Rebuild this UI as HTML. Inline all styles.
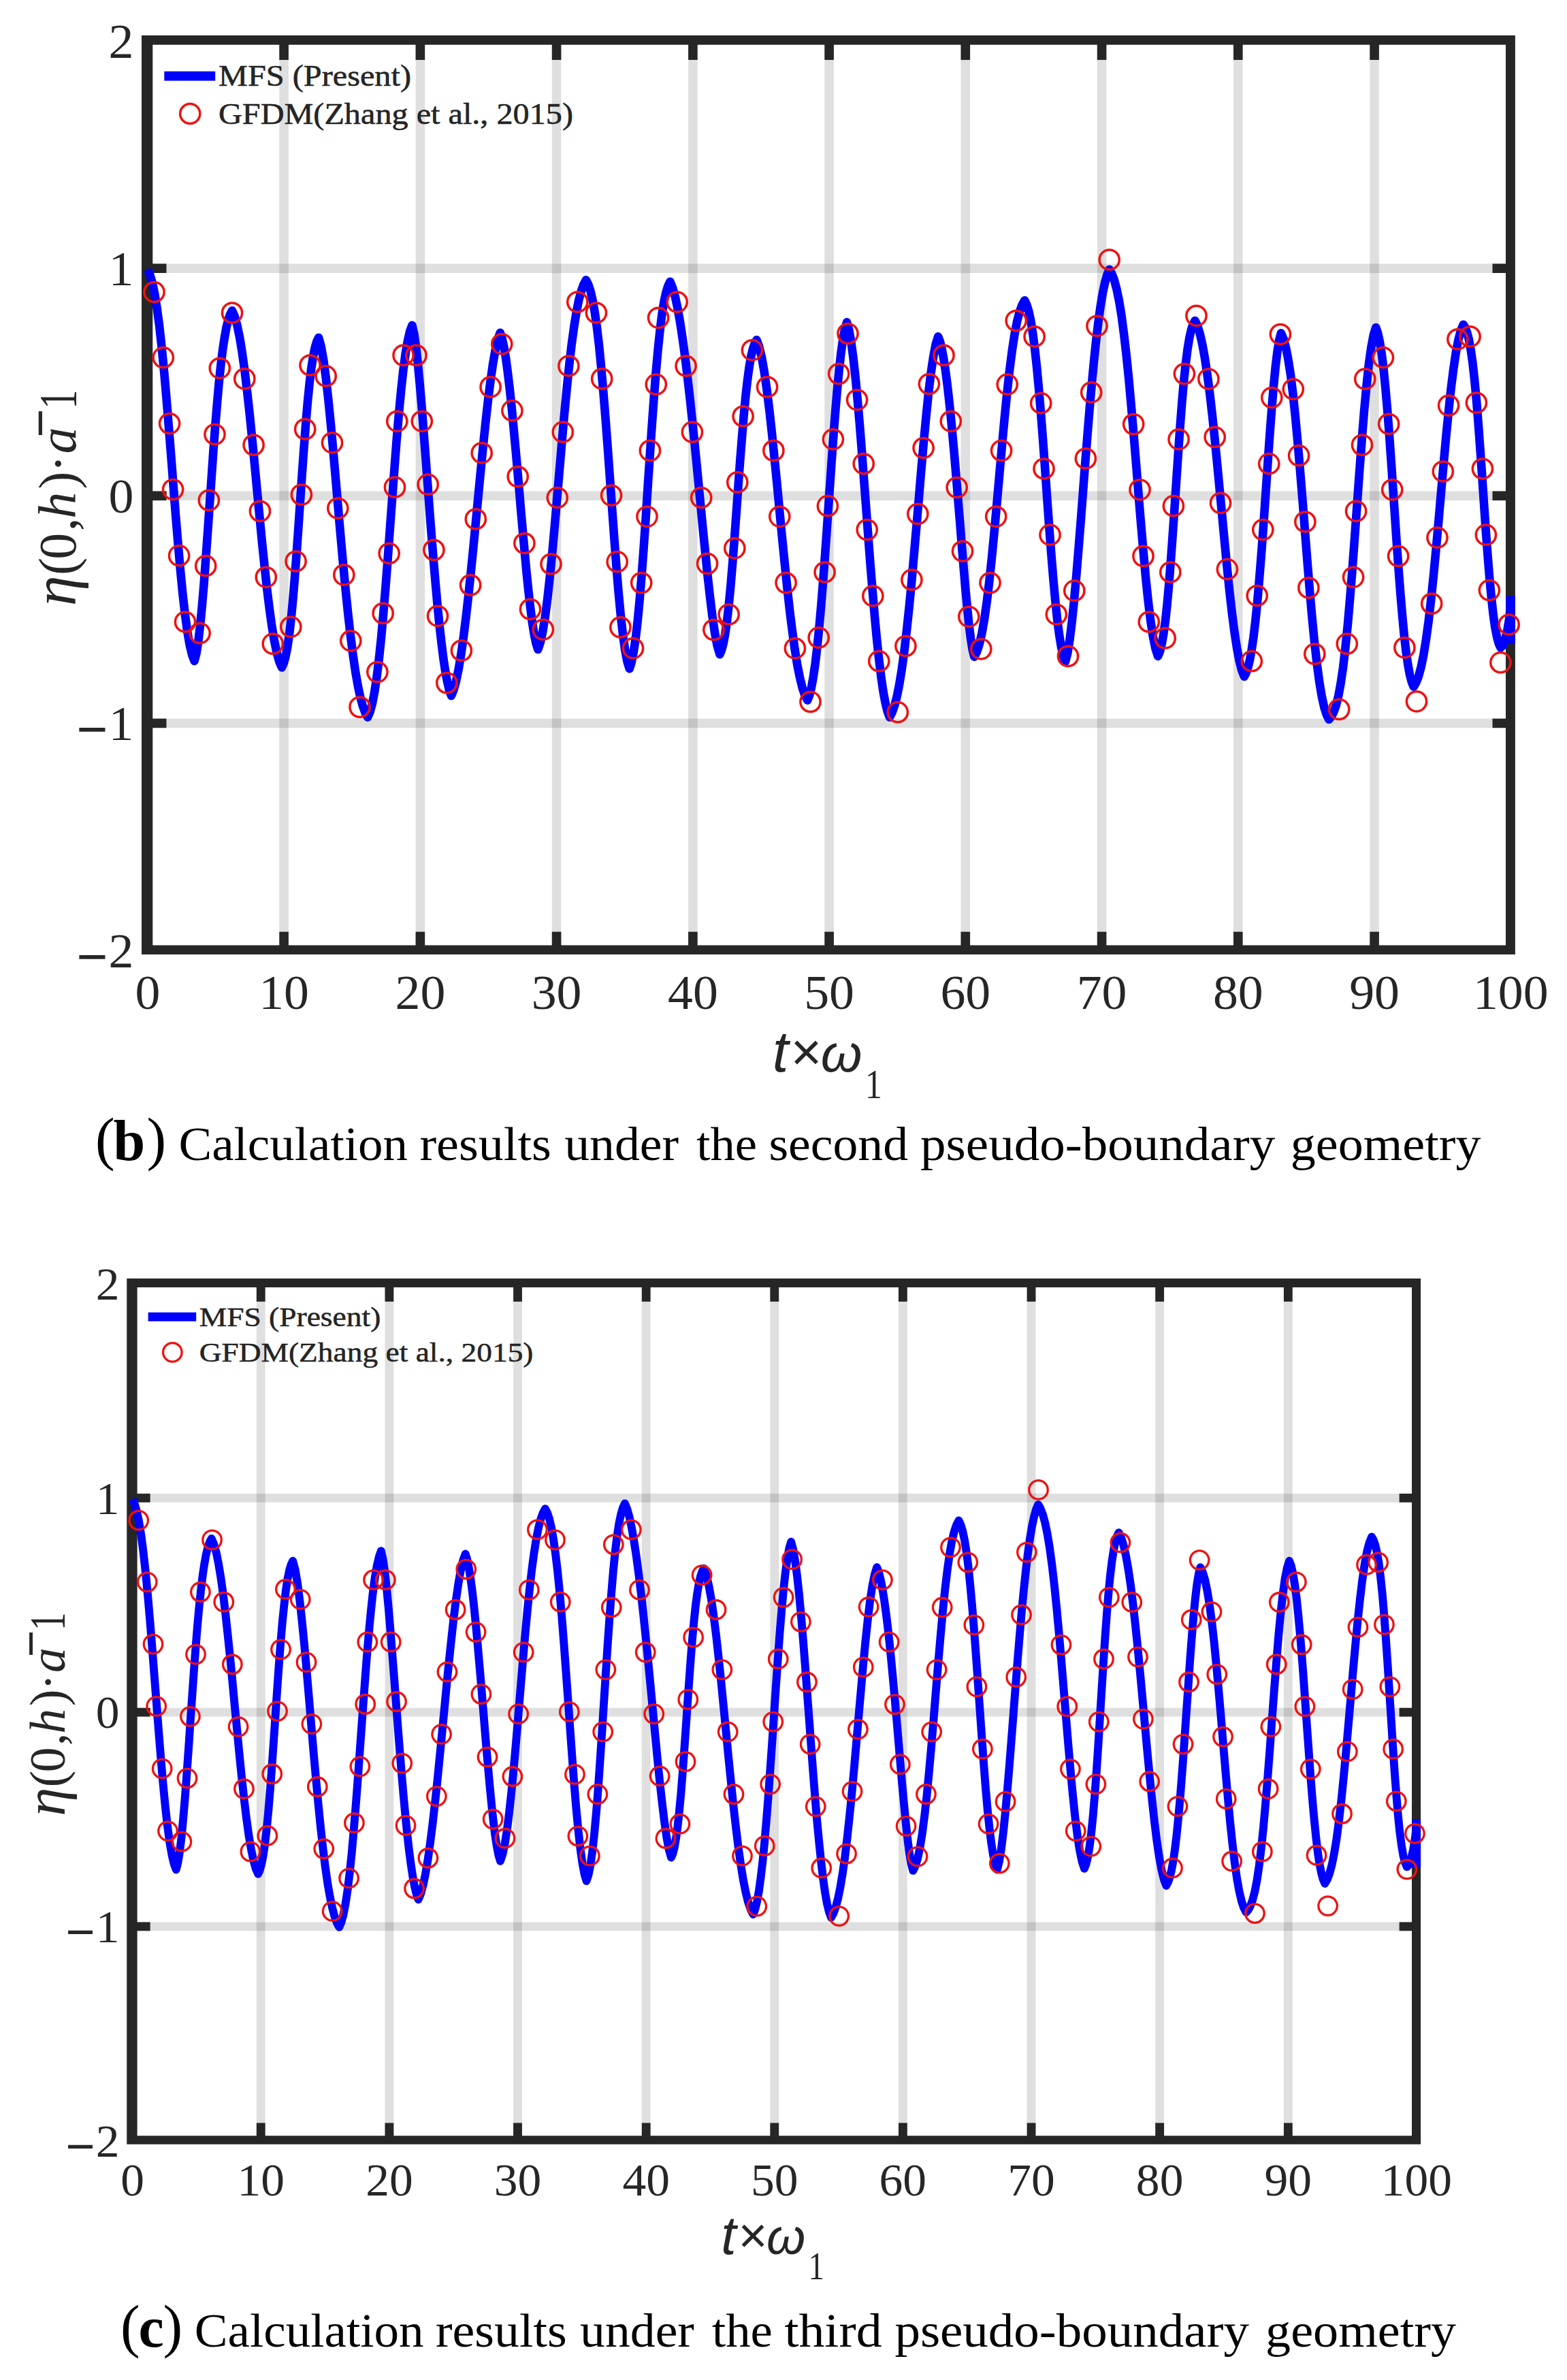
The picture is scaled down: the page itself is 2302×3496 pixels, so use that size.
<!DOCTYPE html>
<html><head><meta charset="utf-8"><title>Figure</title>
<style>
html,body{margin:0;padding:0;background:#fff;}
svg{display:block;}
text{font-family:"Liberation Serif","DejaVu Serif",serif;fill:#262626;}
.sans text{font-family:"Liberation Sans","DejaVu Sans",sans-serif;font-style:italic;}
text.cap{font-family:"Liberation Serif","DejaVu Serif",serif;fill:#000;}
</style></head><body>
<svg width="2302" height="3496" viewBox="0 0 2302 3496">
<rect width="2302" height="3496" fill="#fff"/>
<g id="chart-b">
<g fill="#000" fill-opacity="0.125">
<rect x="410.3" y="65.8" width="13.6" height="1322.8"/>
<rect x="610.6" y="65.8" width="13.6" height="1322.8"/>
<rect x="810.8" y="65.8" width="13.6" height="1322.8"/>
<rect x="1011.1" y="65.8" width="13.6" height="1322.8"/>
<rect x="1211.3" y="65.8" width="13.6" height="1322.8"/>
<rect x="1411.5" y="65.8" width="13.6" height="1322.8"/>
<rect x="1611.8" y="65.8" width="13.6" height="1322.8"/>
<rect x="1812.0" y="65.8" width="13.6" height="1322.8"/>
<rect x="2012.3" y="65.8" width="13.6" height="1322.8"/>
<rect x="224.3" y="1055.6" width="1987.7" height="13.6"/>
<rect x="224.3" y="721.5" width="1987.7" height="13.6"/>
<rect x="224.3" y="387.4" width="1987.7" height="13.6"/>
</g>
<g fill="#262626">
<rect x="410.3" y="64.8" width="13.6" height="23.2"/>
<rect x="410.3" y="1368.7" width="13.6" height="20.9"/>
<rect x="610.6" y="64.8" width="13.6" height="23.2"/>
<rect x="610.6" y="1368.7" width="13.6" height="20.9"/>
<rect x="810.8" y="64.8" width="13.6" height="23.2"/>
<rect x="810.8" y="1368.7" width="13.6" height="20.9"/>
<rect x="1011.1" y="64.8" width="13.6" height="23.2"/>
<rect x="1011.1" y="1368.7" width="13.6" height="20.9"/>
<rect x="1211.3" y="64.8" width="13.6" height="23.2"/>
<rect x="1211.3" y="1368.7" width="13.6" height="20.9"/>
<rect x="1411.5" y="64.8" width="13.6" height="23.2"/>
<rect x="1411.5" y="1368.7" width="13.6" height="20.9"/>
<rect x="1611.8" y="64.8" width="13.6" height="23.2"/>
<rect x="1611.8" y="1368.7" width="13.6" height="20.9"/>
<rect x="1812.0" y="64.8" width="13.6" height="23.2"/>
<rect x="1812.0" y="1368.7" width="13.6" height="20.9"/>
<rect x="2012.3" y="64.8" width="13.6" height="23.2"/>
<rect x="2012.3" y="1368.7" width="13.6" height="20.9"/>
<rect x="223.3" y="1055.6" width="21.2" height="13.6"/>
<rect x="2192.5" y="1055.6" width="20.5" height="13.6"/>
<rect x="223.3" y="721.5" width="21.2" height="13.6"/>
<rect x="2192.5" y="721.5" width="20.5" height="13.6"/>
<rect x="223.3" y="387.4" width="21.2" height="13.6"/>
<rect x="2192.5" y="387.4" width="20.5" height="13.6"/>
<path fill-rule="evenodd" d="M208.0 52.0H2225.9V1401.9H208.0ZM224.3 65.8H2212.0V1388.6H224.3Z"/>
</g>
<polyline points="216.9,396.2 220.3,403.7 223.8,415.3 227.2,431.6 230.6,452.7 234.1,478.8 237.5,509.6 241.0,544.9 244.4,583.9 247.8,625.7 251.3,669.3 254.7,713.6 258.1,757.2 261.6,799.0 265.0,837.8 268.4,872.7 271.9,903.0 275.3,928.0 278.7,947.7 282.2,961.9 285.6,970.9 288.4,960.2 291.2,943.1 293.9,920.1 296.7,891.6 299.5,858.6 302.2,822.1 305.0,783.2 307.8,743.1 310.6,703.1 313.3,664.1 316.1,627.3 318.9,593.3 321.6,562.7 324.4,536.1 327.2,513.5 330.0,495.0 332.7,480.3 335.5,469.3 338.3,461.4 341.0,456.2 344.7,464.6 348.3,477.5 352.0,495.1 355.6,517.1 359.3,543.4 362.9,573.5 366.6,606.9 370.2,642.7 373.9,680.4 377.5,718.9 381.2,757.4 384.8,794.9 388.5,830.7 392.1,863.9 395.8,893.9 399.4,920.0 403.1,941.9 406.7,959.3 410.4,972.2 414.0,980.5 416.7,974.5 419.4,965.0 422.2,951.1 424.9,932.6 427.6,909.2 430.3,881.1 433.0,848.7 435.7,812.8 438.4,774.4 441.1,734.9 443.8,695.5 446.5,657.6 449.2,622.4 451.9,590.9 454.6,563.7 457.3,541.3 460.0,523.7 462.7,510.6 465.4,501.6 468.1,496.0 471.7,508.9 475.3,529.2 478.9,556.1 482.5,588.4 486.1,624.9 489.7,664.4 493.3,705.6 496.9,747.4 500.5,788.8 504.1,828.8 507.7,866.6 511.3,901.7 514.9,933.5 518.5,961.8 522.1,986.3 525.7,1007.0 529.3,1023.9 532.9,1037.1 536.5,1046.9 540.1,1053.5 543.4,1046.0 546.7,1034.4 549.9,1018.1 553.2,996.7 556.5,970.4 559.8,939.1 563.0,903.4 566.3,863.9 569.6,821.5 572.8,777.4 576.1,732.8 579.4,688.9 582.6,647.1 585.9,608.4 589.2,573.7 592.4,543.9 595.7,519.4 599.0,500.3 602.2,486.5 605.5,477.8 608.4,490.6 611.3,510.6 614.1,536.6 617.0,567.4 619.9,601.6 622.7,638.2 625.6,676.2 628.5,714.7 631.3,752.9 634.2,790.1 637.1,825.8 640.0,859.4 642.8,890.7 645.7,919.4 648.6,945.0 651.4,967.5 654.3,986.6 657.2,1002.1 660.1,1014.0 662.9,1022.0 666.5,1013.4 670.1,1000.3 673.7,982.8 677.3,961.3 680.9,935.9 684.5,907.0 688.1,875.2 691.7,840.9 695.3,804.8 698.9,767.4 702.5,729.6 706.1,692.1 709.7,655.6 713.3,620.8 716.9,588.6 720.5,559.7 724.1,534.7 727.7,514.2 731.2,498.7 734.8,488.7 737.6,497.1 740.4,509.9 743.2,526.6 745.9,547.0 748.7,570.5 751.5,596.7 754.2,625.0 757.0,655.1 759.8,686.4 762.6,718.3 765.3,750.3 768.1,781.9 770.9,812.5 773.6,841.6 776.4,868.6 779.2,893.0 781.9,914.3 784.7,931.8 787.5,945.2 790.3,954.0 793.8,943.7 797.3,927.6 800.9,905.6 804.4,878.2 807.9,846.0 811.5,809.9 815.0,770.9 818.5,730.0 822.1,688.4 825.6,647.3 829.1,607.6 832.7,570.4 836.2,536.4 839.7,506.1 843.3,480.0 846.8,458.2 850.3,440.7 853.9,427.3 857.4,417.7 860.9,411.4 864.1,417.5 867.3,427.0 870.5,440.5 873.7,458.3 876.9,480.8 880.1,508.0 883.2,539.9 886.4,576.1 889.6,615.8 892.8,658.3 896.0,702.5 899.2,747.1 902.4,790.8 905.5,832.4 908.7,870.6 911.9,904.3 915.1,932.7 918.3,955.3 921.5,971.8 924.7,982.2 927.6,973.2 930.6,958.9 933.6,939.0 936.6,913.2 939.6,881.9 942.6,845.6 945.6,805.2 948.6,761.9 951.5,717.0 954.5,671.8 957.5,627.7 960.5,586.2 963.5,548.1 966.5,514.5 969.5,485.7 972.4,462.1 975.4,443.5 978.4,429.6 981.4,419.9 984.4,413.7 988.0,422.4 991.7,435.3 995.3,452.1 999.0,472.6 1002.6,496.5 1006.3,523.5 1009.9,553.3 1013.6,585.6 1017.2,619.9 1020.9,655.9 1024.5,693.1 1028.2,731.0 1031.8,768.9 1035.5,806.0 1039.1,841.6 1042.8,874.8 1046.4,904.4 1050.1,929.5 1053.7,948.8 1057.4,961.3 1060.1,954.9 1062.8,944.6 1065.5,929.9 1068.2,910.6 1070.9,886.5 1073.6,858.0 1076.3,825.6 1079.0,790.4 1081.7,753.3 1084.4,715.6 1087.1,678.6 1089.9,643.4 1092.6,611.2 1095.3,582.7 1098.0,558.5 1100.7,538.7 1103.4,523.3 1106.1,512.0 1108.8,504.2 1111.5,499.3 1115.2,509.3 1119.0,524.9 1122.7,545.9 1126.4,571.7 1130.2,601.9 1133.9,635.6 1137.6,671.9 1141.4,710.1 1145.1,749.1 1148.8,788.0 1152.6,825.9 1156.3,862.0 1160.0,895.6 1163.8,926.1 1167.5,953.1 1171.2,976.2 1175.0,995.3 1178.7,1010.3 1182.4,1021.4 1186.2,1028.6 1189.1,1021.3 1192.0,1009.9 1194.8,994.4 1197.7,974.3 1200.6,949.8 1203.5,921.0 1206.4,888.2 1209.3,852.0 1212.2,813.0 1215.1,772.1 1218.0,730.4 1220.9,688.8 1223.8,648.5 1226.7,610.5 1229.6,575.7 1232.5,545.0 1235.4,519.1 1238.3,498.4 1241.2,483.2 1244.1,473.4 1247.3,484.8 1250.4,502.4 1253.5,525.9 1256.7,554.5 1259.8,587.6 1263.0,624.3 1266.1,663.7 1269.2,704.9 1272.4,746.8 1275.5,788.6 1278.6,829.3 1281.8,868.3 1284.9,904.8 1288.0,938.1 1291.2,967.8 1294.3,993.6 1297.4,1015.1 1300.6,1032.3 1303.7,1045.1 1306.9,1053.5 1310.4,1046.9 1314.0,1036.9 1317.6,1023.2 1321.1,1005.5 1324.7,983.7 1328.3,957.7 1331.8,927.7 1335.4,893.9 1339.0,857.0 1342.5,817.4 1346.1,776.0 1349.7,733.8 1353.2,691.8 1356.8,651.2 1360.4,613.0 1363.9,578.5 1367.5,548.5 1371.1,524.1 1374.6,505.9 1378.2,494.4 1380.9,501.5 1383.5,512.2 1386.2,526.2 1388.8,543.4 1391.5,563.6 1394.1,586.6 1396.8,612.1 1399.4,639.8 1402.1,669.5 1404.7,700.6 1407.4,732.9 1410.1,765.8 1412.7,798.7 1415.4,831.0 1418.0,861.8 1420.7,890.4 1423.3,916.0 1426.0,937.4 1428.6,953.9 1431.3,964.6 1435.0,957.5 1438.7,946.3 1442.4,930.4 1446.1,909.4 1449.8,883.3 1453.5,852.4 1457.2,817.2 1460.9,778.6 1464.6,737.8 1468.3,695.9 1472.0,654.3 1475.7,614.4 1479.4,577.2 1483.1,543.9 1486.8,515.0 1490.5,491.0 1494.2,471.9 1497.9,457.6 1501.6,447.6 1505.3,441.3 1508.3,447.5 1511.3,457.3 1514.3,471.2 1517.2,489.5 1520.2,512.6 1523.2,540.3 1526.2,572.4 1529.2,608.3 1532.2,647.2 1535.2,688.2 1538.1,729.9 1541.1,771.2 1544.1,810.8 1547.1,847.6 1550.1,880.7 1553.1,909.2 1556.1,932.6 1559.1,950.9 1562.0,964.0 1565.0,972.2 1568.3,959.5 1571.5,939.6 1574.7,913.4 1578.0,881.7 1581.2,845.8 1584.4,806.7 1587.7,765.6 1590.9,723.6 1594.1,681.5 1597.4,640.4 1600.6,601.0 1603.9,564.0 1607.1,530.0 1610.3,499.3 1613.6,472.3 1616.8,449.2 1620.0,430.0 1623.3,414.7 1626.5,403.4 1629.7,395.8 1633.3,401.9 1636.9,411.3 1640.4,424.6 1644.0,442.1 1647.6,464.1 1651.1,490.7 1654.7,521.8 1658.3,557.1 1661.8,596.0 1665.4,637.8 1669.0,681.3 1672.5,725.4 1676.1,769.0 1679.7,810.6 1683.2,849.2 1686.8,883.5 1690.4,912.7 1694.0,936.0 1697.5,953.1 1701.1,963.9 1703.8,957.5 1706.5,947.0 1709.2,932.0 1712.0,911.9 1714.7,886.7 1717.4,856.5 1720.1,822.1 1722.8,784.3 1725.6,744.4 1728.3,703.6 1731.0,663.6 1733.7,625.5 1736.4,590.6 1739.1,559.8 1741.9,533.8 1744.6,512.6 1747.3,496.2 1750.0,484.3 1752.7,476.2 1755.5,471.1 1759.1,478.6 1762.7,490.1 1766.3,505.8 1769.9,525.7 1773.5,549.7 1777.2,577.6 1780.8,609.0 1784.4,643.4 1788.0,680.0 1791.6,718.0 1795.3,756.7 1798.9,795.1 1802.5,832.2 1806.1,867.1 1809.7,899.1 1813.3,927.3 1817.0,951.3 1820.6,970.5 1824.2,984.7 1827.8,993.8 1830.5,988.7 1833.2,980.9 1835.9,969.9 1838.6,955.4 1841.3,937.1 1844.0,914.7 1846.7,888.4 1849.4,858.3 1852.1,824.8 1854.9,788.6 1857.6,750.3 1860.3,711.0 1863.0,671.8 1865.7,633.9 1868.4,598.3 1871.1,566.2 1873.8,538.6 1876.5,516.2 1879.2,499.7 1881.9,489.4 1885.4,497.3 1888.9,509.9 1892.4,527.6 1896.0,550.7 1899.5,579.2 1903.0,612.8 1906.5,650.8 1910.0,692.2 1913.6,736.0 1917.1,780.9 1920.6,825.4 1924.1,868.2 1927.6,908.1 1931.1,944.0 1934.7,975.4 1938.2,1001.6 1941.7,1022.6 1945.2,1038.5 1948.7,1049.7 1952.2,1056.8 1955.7,1052.8 1959.1,1046.3 1962.6,1036.6 1966.1,1022.9 1969.5,1004.4 1973.0,980.8 1976.4,951.8 1979.9,917.4 1983.3,878.0 1986.8,834.6 1990.2,788.1 1993.7,740.2 1997.1,692.4 2000.6,646.4 2004.0,603.9 2007.5,566.3 2010.9,534.7 2014.4,509.9 2017.8,492.0 2021.3,481.1 2024.0,488.9 2026.8,501.3 2029.6,518.5 2032.4,540.8 2035.1,567.9 2037.9,599.6 2040.7,635.2 2043.4,673.7 2046.2,714.2 2049.0,755.4 2051.7,796.1 2054.5,835.3 2057.3,871.7 2060.1,904.6 2062.8,933.3 2065.6,957.4 2068.4,976.7 2071.1,991.5 2073.9,1002.0 2076.7,1008.7 2080.3,1002.7 2084.0,993.2 2087.6,979.8 2091.3,962.1 2094.9,939.7 2098.6,912.8 2102.2,881.4 2105.9,846.2 2109.5,807.8 2113.2,767.2 2116.8,725.5 2120.5,684.0 2124.1,643.9 2127.8,606.3 2131.4,572.4 2135.1,542.9 2138.7,518.4 2142.4,499.3 2146.0,485.5 2149.7,476.8 2152.4,481.1 2155.2,488.2 2157.9,498.8 2160.6,513.6 2163.4,533.2 2166.1,557.7 2168.9,586.9 2171.6,620.5 2174.3,657.4 2177.1,696.6 2179.8,736.6 2182.5,776.0 2185.3,813.2 2188.0,847.1 2190.8,876.7 2193.5,901.4 2196.2,920.8 2199.0,935.3 2201.7,945.2 2204.4,951.3 2207.8,948.4 2211.1,939.7 2214.4,925.4 2217.7,906.0 2219.0,884.3" fill="none" stroke="#0000ff" stroke-width="12.6" stroke-linejoin="round" stroke-linecap="butt"/>
<rect x="2212.2" y="875.6" width="13.6" height="70.4" fill="#0000ff"/>
<g fill="none" stroke="#ee1111" stroke-width="3.5"><circle cx="226.5" cy="429.0" r="14.6"/><circle cx="239.8" cy="525.2" r="14.6"/><circle cx="249.1" cy="622.1" r="14.6"/><circle cx="254.1" cy="719.0" r="14.6"/><circle cx="263.1" cy="816.2" r="14.6"/><circle cx="272.0" cy="913.5" r="14.6"/><circle cx="293.6" cy="930.1" r="14.6"/><circle cx="302.2" cy="831.2" r="14.6"/><circle cx="306.9" cy="734.9" r="14.6"/><circle cx="315.5" cy="638.0" r="14.6"/><circle cx="322.8" cy="540.8" r="14.6"/><circle cx="341.0" cy="459.5" r="14.6"/><circle cx="359.3" cy="556.4" r="14.6"/><circle cx="372.6" cy="653.6" r="14.6"/><circle cx="381.9" cy="750.9" r="14.6"/><circle cx="390.8" cy="847.8" r="14.6"/><circle cx="400.8" cy="945.7" r="14.6"/><circle cx="427.3" cy="920.8" r="14.6"/><circle cx="434.6" cy="824.5" r="14.6"/><circle cx="442.9" cy="726.6" r="14.6"/><circle cx="448.2" cy="630.4" r="14.6"/><circle cx="455.5" cy="536.5" r="14.6"/><circle cx="478.7" cy="552.4" r="14.6"/><circle cx="488.0" cy="650.3" r="14.6"/><circle cx="496.3" cy="746.6" r="14.6"/><circle cx="505.3" cy="844.4" r="14.6"/><circle cx="515.3" cy="941.3" r="14.6"/><circle cx="528.5" cy="1038.6" r="14.6"/><circle cx="554.4" cy="987.1" r="14.6"/><circle cx="562.7" cy="900.9" r="14.6"/><circle cx="571.7" cy="812.9" r="14.6"/><circle cx="580.0" cy="715.7" r="14.6"/><circle cx="583.3" cy="618.8" r="14.6"/><circle cx="592.6" cy="521.9" r="14.6"/><circle cx="611.5" cy="521.9" r="14.6"/><circle cx="619.8" cy="618.8" r="14.6"/><circle cx="628.7" cy="711.7" r="14.6"/><circle cx="637.4" cy="807.9" r="14.6"/><circle cx="643.0" cy="904.8" r="14.6"/><circle cx="656.3" cy="1003.1" r="14.6"/><circle cx="677.9" cy="955.6" r="14.6"/><circle cx="691.1" cy="859.4" r="14.6"/><circle cx="698.8" cy="762.5" r="14.6"/><circle cx="707.7" cy="665.3" r="14.6"/><circle cx="720.6" cy="568.4" r="14.6"/><circle cx="737.2" cy="505.3" r="14.6"/><circle cx="752.4" cy="603.2" r="14.6"/><circle cx="760.7" cy="700.1" r="14.6"/><circle cx="770.4" cy="798.0" r="14.6"/><circle cx="779.0" cy="894.9" r="14.6"/><circle cx="797.9" cy="924.8" r="14.6"/><circle cx="809.5" cy="828.5" r="14.6"/><circle cx="818.8" cy="731.0" r="14.6"/><circle cx="826.8" cy="634.7" r="14.6"/><circle cx="835.4" cy="537.5" r="14.6"/><circle cx="848.3" cy="443.6" r="14.6"/><circle cx="875.9" cy="459.5" r="14.6"/><circle cx="884.2" cy="556.4" r="14.6"/><circle cx="898.1" cy="727.6" r="14.6"/><circle cx="906.7" cy="825.2" r="14.6"/><circle cx="911.4" cy="921.4" r="14.6"/><circle cx="930.0" cy="952.3" r="14.6"/><circle cx="942.2" cy="856.1" r="14.6"/><circle cx="950.5" cy="758.8" r="14.6"/><circle cx="954.9" cy="661.9" r="14.6"/><circle cx="963.8" cy="564.7" r="14.6"/><circle cx="967.1" cy="466.8" r="14.6"/><circle cx="994.7" cy="443.6" r="14.6"/><circle cx="1007.6" cy="537.5" r="14.6"/><circle cx="1016.9" cy="634.7" r="14.6"/><circle cx="1030.2" cy="731.0" r="14.6"/><circle cx="1039.1" cy="827.9" r="14.6"/><circle cx="1048.4" cy="925.1" r="14.6"/><circle cx="1070.7" cy="902.5" r="14.6"/><circle cx="1079.3" cy="805.3" r="14.6"/><circle cx="1083.3" cy="708.4" r="14.6"/><circle cx="1091.6" cy="611.5" r="14.6"/><circle cx="1104.9" cy="514.3" r="14.6"/><circle cx="1127.1" cy="568.4" r="14.6"/><circle cx="1136.4" cy="661.9" r="14.6"/><circle cx="1145.3" cy="758.8" r="14.6"/><circle cx="1154.6" cy="856.1" r="14.6"/><circle cx="1167.9" cy="952.3" r="14.6"/><circle cx="1190.5" cy="1030.9" r="14.6"/><circle cx="1202.7" cy="936.7" r="14.6"/><circle cx="1211.6" cy="840.5" r="14.6"/><circle cx="1215.9" cy="743.2" r="14.6"/><circle cx="1223.9" cy="645.3" r="14.6"/><circle cx="1232.2" cy="549.1" r="14.6"/><circle cx="1245.5" cy="490.0" r="14.6"/><circle cx="1259.1" cy="587.3" r="14.6"/><circle cx="1268.7" cy="681.2" r="14.6"/><circle cx="1273.7" cy="778.1" r="14.6"/><circle cx="1282.3" cy="875.3" r="14.6"/><circle cx="1291.3" cy="971.2" r="14.6"/><circle cx="1318.8" cy="1046.2" r="14.6"/><circle cx="1330.4" cy="949.0" r="14.6"/><circle cx="1339.4" cy="851.7" r="14.6"/><circle cx="1348.3" cy="754.9" r="14.6"/><circle cx="1356.6" cy="658.0" r="14.6"/><circle cx="1364.9" cy="564.0" r="14.6"/><circle cx="1386.5" cy="521.9" r="14.6"/><circle cx="1396.8" cy="618.8" r="14.6"/><circle cx="1405.7" cy="716.0" r="14.6"/><circle cx="1414.0" cy="809.6" r="14.6"/><circle cx="1423.3" cy="905.8" r="14.6"/><circle cx="1441.3" cy="953.3" r="14.6"/><circle cx="1454.5" cy="856.1" r="14.6"/><circle cx="1463.2" cy="758.8" r="14.6"/><circle cx="1471.1" cy="661.9" r="14.6"/><circle cx="1479.7" cy="564.7" r="14.6"/><circle cx="1492.7" cy="471.1" r="14.6"/><circle cx="1519.6" cy="494.4" r="14.6"/><circle cx="1529.2" cy="592.2" r="14.6"/><circle cx="1533.5" cy="688.5" r="14.6"/><circle cx="1542.5" cy="785.7" r="14.6"/><circle cx="1551.8" cy="902.5" r="14.6"/><circle cx="1569.0" cy="963.9" r="14.6"/><circle cx="1578.3" cy="867.7" r="14.6"/><circle cx="1594.9" cy="673.5" r="14.6"/><circle cx="1603.2" cy="576.3" r="14.6"/><circle cx="1611.5" cy="478.8" r="14.6"/><circle cx="1629.7" cy="381.5" r="14.6"/><circle cx="1665.2" cy="623.1" r="14.6"/><circle cx="1674.5" cy="719.3" r="14.6"/><circle cx="1679.5" cy="816.9" r="14.6"/><circle cx="1687.8" cy="913.5" r="14.6"/><circle cx="1711.7" cy="937.4" r="14.6"/><circle cx="1719.3" cy="840.5" r="14.6"/><circle cx="1723.9" cy="743.2" r="14.6"/><circle cx="1731.6" cy="645.3" r="14.6"/><circle cx="1739.9" cy="549.1" r="14.6"/><circle cx="1757.5" cy="463.8" r="14.6"/><circle cx="1775.4" cy="556.7" r="14.6"/><circle cx="1784.7" cy="642.0" r="14.6"/><circle cx="1793.0" cy="738.9" r="14.6"/><circle cx="1802.9" cy="836.2" r="14.6"/><circle cx="1838.8" cy="971.2" r="14.6"/><circle cx="1846.7" cy="875.0" r="14.6"/><circle cx="1855.3" cy="778.1" r="14.6"/><circle cx="1864.3" cy="681.2" r="14.6"/><circle cx="1868.3" cy="584.0" r="14.6"/><circle cx="1880.9" cy="491.0" r="14.6"/><circle cx="1899.8" cy="571.7" r="14.6"/><circle cx="1908.1" cy="669.2" r="14.6"/><circle cx="1917.4" cy="766.5" r="14.6"/><circle cx="1922.4" cy="863.4" r="14.6"/><circle cx="1931.3" cy="960.6" r="14.6"/><circle cx="1967.2" cy="1041.9" r="14.6"/><circle cx="1978.8" cy="945.7" r="14.6"/><circle cx="1988.1" cy="847.8" r="14.6"/><circle cx="1992.1" cy="750.9" r="14.6"/><circle cx="2001.0" cy="653.6" r="14.6"/><circle cx="2005.3" cy="556.7" r="14.6"/><circle cx="2031.9" cy="525.2" r="14.6"/><circle cx="2040.2" cy="622.8" r="14.6"/><circle cx="2045.2" cy="719.3" r="14.6"/><circle cx="2054.1" cy="816.9" r="14.6"/><circle cx="2063.4" cy="951.3" r="14.6"/><circle cx="2081.0" cy="1030.3" r="14.6"/><circle cx="2103.2" cy="886.6" r="14.6"/><circle cx="2111.5" cy="789.7" r="14.6"/><circle cx="2119.8" cy="692.5" r="14.6"/><circle cx="2128.1" cy="595.6" r="14.6"/><circle cx="2141.4" cy="498.3" r="14.6"/><circle cx="2159.6" cy="494.4" r="14.6"/><circle cx="2168.9" cy="591.6" r="14.6"/><circle cx="2177.9" cy="688.5" r="14.6"/><circle cx="2182.9" cy="785.7" r="14.6"/><circle cx="2187.9" cy="867.0" r="14.6"/><circle cx="2204.4" cy="973.2" r="14.6"/><circle cx="2216.7" cy="917.5" r="14.6"/><circle cx="279.2" cy="167" r="14.6"/></g>
<rect x="241.3" y="104.8" width="74.9" height="13.8" fill="#0000ff"/>
<g font-size="43.5" fill="#111" stroke="#111" stroke-width="0.5"><text x="321" y="125.8" textLength="283" lengthAdjust="spacingAndGlyphs">MFS (Present)</text>
<text x="321" y="181.7" textLength="521" lengthAdjust="spacingAndGlyphs">GFDM(Zhang et al., 2015)</text></g>
<g font-size="71">
<text transform="translate(216.9,1481.5) scale(1.04,1)" text-anchor="middle">0</text>
<text transform="translate(417.1,1481.5) scale(1.04,1)" text-anchor="middle">10</text>
<text transform="translate(617.4,1481.5) scale(1.04,1)" text-anchor="middle">20</text>
<text transform="translate(817.6,1481.5) scale(1.04,1)" text-anchor="middle">30</text>
<text transform="translate(1017.9,1481.5) scale(1.04,1)" text-anchor="middle">40</text>
<text transform="translate(1218.1,1481.5) scale(1.04,1)" text-anchor="middle">50</text>
<text transform="translate(1418.3,1481.5) scale(1.04,1)" text-anchor="middle">60</text>
<text transform="translate(1618.6,1481.5) scale(1.04,1)" text-anchor="middle">70</text>
<text transform="translate(1818.8,1481.5) scale(1.04,1)" text-anchor="middle">80</text>
<text transform="translate(2019.1,1481.5) scale(1.04,1)" text-anchor="middle">90</text>
<text transform="translate(2219.3,1481.5) scale(1.04,1)" text-anchor="middle">100</text>
<text transform="translate(196.5,84.8) scale(1.04,1)" text-anchor="end">2</text>
<text transform="translate(196.5,418.9) scale(1.04,1)" text-anchor="end">1</text>
<text transform="translate(196.5,753.0) scale(1.04,1)" text-anchor="end">0</text>
<text transform="translate(196.5,1087.1) scale(1.04,1)" text-anchor="end">1</text>
<text x="159" y="1098.8" font-size="82" text-anchor="end" font-weight="bold">−</text>
<text transform="translate(196.5,1421.2) scale(1.04,1)" text-anchor="end">2</text>
<text x="159" y="1432.9" font-size="82" text-anchor="end" font-weight="bold">−</text>
</g>
<text transform="translate(110.7,888) rotate(-90)" font-size="78"><tspan x="-2.2" font-size="90" font-style="italic">η</tspan><tspan x="42.9">(</tspan><tspan x="66.2">0</tspan><tspan x="107.9">,</tspan><tspan x="126.2" font-style="italic">h</tspan><tspan x="169.5">)</tspan><tspan x="193.9">·</tspan><tspan x="221.5" font-style="italic">a</tspan><tspan x="245" dy="-27" font-size="75" font-weight="bold">−</tspan><tspan x="287.2" dy="27" textLength="28" lengthAdjust="spacingAndGlyphs">1</tspan></text>
<g class="sans"><text x="1134.7" y="1573.5" font-size="85">t</text><text x="1160.4" y="1571.5" font-size="78">×</text><text x="1205.7" y="1573.5" font-size="78">ω</text></g>
<text x="1271" y="1612.5" font-size="61" textLength="25" lengthAdjust="spacingAndGlyphs">1</text>
</g>
<g class="capg"><text x="140" y="1702" font-size="86" class="cap">(</text><text x="166.5" y="1703.5" font-size="84" font-weight="bold" class="cap">b</text><text x="215.5" y="1702" font-size="86" class="cap">)</text><text x="262.5" y="1703.5" font-size="70" class="cap" textLength="336.5" lengthAdjust="spacingAndGlyphs">Calculation</text><text x="616.4" y="1703.5" font-size="70" class="cap" textLength="193.4" lengthAdjust="spacingAndGlyphs">results</text><text x="829.2" y="1703.5" font-size="70" class="cap" textLength="167.9" lengthAdjust="spacingAndGlyphs">under</text><text x="1023.2" y="1703.5" font-size="70" class="cap" textLength="88.8" lengthAdjust="spacingAndGlyphs">the</text><text x="1129.4" y="1703.5" font-size="70" class="cap" textLength="204.6" lengthAdjust="spacingAndGlyphs">second</text><text x="1352.1" y="1703.5" font-size="70" class="cap" textLength="521.1" lengthAdjust="spacingAndGlyphs">pseudo-boundary</text><text x="1895.8" y="1703.5" font-size="70" class="cap" textLength="279.7" lengthAdjust="spacingAndGlyphs">geometry</text></g>
<g id="chart-c" transform="translate(-9.67,1829.07) scale(0.942)">
<g fill="#000" fill-opacity="0.125">
<rect x="410.3" y="65.8" width="13.6" height="1322.8"/>
<rect x="610.6" y="65.8" width="13.6" height="1322.8"/>
<rect x="810.8" y="65.8" width="13.6" height="1322.8"/>
<rect x="1011.1" y="65.8" width="13.6" height="1322.8"/>
<rect x="1211.3" y="65.8" width="13.6" height="1322.8"/>
<rect x="1411.5" y="65.8" width="13.6" height="1322.8"/>
<rect x="1611.8" y="65.8" width="13.6" height="1322.8"/>
<rect x="1812.0" y="65.8" width="13.6" height="1322.8"/>
<rect x="2012.3" y="65.8" width="13.6" height="1322.8"/>
<rect x="224.3" y="1055.6" width="1987.7" height="13.6"/>
<rect x="224.3" y="721.5" width="1987.7" height="13.6"/>
<rect x="224.3" y="387.4" width="1987.7" height="13.6"/>
</g>
<g fill="#262626">
<rect x="410.3" y="64.8" width="13.6" height="23.2"/>
<rect x="410.3" y="1368.7" width="13.6" height="20.9"/>
<rect x="610.6" y="64.8" width="13.6" height="23.2"/>
<rect x="610.6" y="1368.7" width="13.6" height="20.9"/>
<rect x="810.8" y="64.8" width="13.6" height="23.2"/>
<rect x="810.8" y="1368.7" width="13.6" height="20.9"/>
<rect x="1011.1" y="64.8" width="13.6" height="23.2"/>
<rect x="1011.1" y="1368.7" width="13.6" height="20.9"/>
<rect x="1211.3" y="64.8" width="13.6" height="23.2"/>
<rect x="1211.3" y="1368.7" width="13.6" height="20.9"/>
<rect x="1411.5" y="64.8" width="13.6" height="23.2"/>
<rect x="1411.5" y="1368.7" width="13.6" height="20.9"/>
<rect x="1611.8" y="64.8" width="13.6" height="23.2"/>
<rect x="1611.8" y="1368.7" width="13.6" height="20.9"/>
<rect x="1812.0" y="64.8" width="13.6" height="23.2"/>
<rect x="1812.0" y="1368.7" width="13.6" height="20.9"/>
<rect x="2012.3" y="64.8" width="13.6" height="23.2"/>
<rect x="2012.3" y="1368.7" width="13.6" height="20.9"/>
<rect x="223.3" y="1055.6" width="21.2" height="13.6"/>
<rect x="2192.5" y="1055.6" width="20.5" height="13.6"/>
<rect x="223.3" y="721.5" width="21.2" height="13.6"/>
<rect x="2192.5" y="721.5" width="20.5" height="13.6"/>
<rect x="223.3" y="387.4" width="21.2" height="13.6"/>
<rect x="2192.5" y="387.4" width="20.5" height="13.6"/>
<path fill-rule="evenodd" d="M208.0 52.0H2225.9V1401.9H208.0ZM224.3 65.8H2212.0V1388.6H224.3Z"/>
</g>
<polyline points="216.9,396.2 220.3,403.8 223.7,415.4 227.1,431.8 230.5,453.0 233.9,479.2 237.3,510.2 240.7,545.6 244.1,584.8 247.5,626.9 250.9,670.7 254.4,715.2 257.8,759.0 261.2,801.0 264.6,840.1 268.0,875.1 271.4,905.5 274.8,930.7 278.2,950.4 281.6,964.7 285.0,973.8 287.7,963.1 290.5,945.9 293.3,922.8 296.0,894.3 298.8,861.2 301.5,824.5 304.3,785.5 307.0,745.3 309.8,705.1 312.5,666.1 315.3,629.1 318.0,595.0 320.8,564.4 323.6,537.6 326.3,515.0 329.1,496.4 331.8,481.7 334.6,470.6 337.3,462.7 340.1,457.5 343.7,465.8 347.4,478.7 351.0,496.3 354.6,518.3 358.3,544.5 361.9,574.5 365.5,607.7 369.2,643.5 372.8,681.1 376.4,719.5 380.1,757.8 383.7,795.3 387.3,831.0 391.0,864.1 394.6,894.0 398.2,920.1 401.9,941.9 405.5,959.3 409.1,972.1 412.8,980.4 415.5,974.4 418.2,964.8 420.9,950.8 423.6,932.1 426.3,908.6 429.0,880.2 431.7,847.6 434.4,811.4 437.1,772.8 439.8,733.0 442.5,693.3 445.2,655.1 447.9,619.7 450.6,587.9 453.4,560.6 456.1,538.0 458.8,520.2 461.5,507.1 464.2,498.0 466.9,492.3 470.5,505.5 474.1,526.3 477.7,553.9 481.3,587.0 485.0,624.4 488.6,664.8 492.2,707.0 495.8,749.9 499.4,792.3 503.1,833.2 506.7,872.0 510.3,907.9 513.9,940.5 517.5,969.5 521.1,994.6 524.8,1015.8 528.4,1033.1 532.0,1046.7 535.6,1056.7 539.2,1063.4 542.5,1055.8 545.8,1043.9 549.0,1027.3 552.3,1005.6 555.6,978.7 558.9,946.8 562.1,910.4 565.4,870.2 568.7,827.0 571.9,782.1 575.2,736.6 578.5,691.9 581.7,649.3 585.0,609.8 588.3,574.5 591.5,544.2 594.8,519.1 598.1,499.7 601.4,485.6 604.6,476.7 607.5,489.6 610.4,509.6 613.3,535.5 616.2,566.2 619.1,600.4 622.0,637.0 625.0,675.0 627.9,713.4 630.8,751.5 633.7,788.7 636.6,824.3 639.5,857.9 642.4,889.2 645.3,917.8 648.2,943.4 651.1,965.8 654.0,984.9 656.9,1000.4 659.8,1012.3 662.7,1020.3 666.4,1011.6 670.0,998.3 673.7,980.7 677.4,958.9 681.0,933.3 684.7,904.1 688.4,871.9 692.1,837.3 695.7,800.8 699.4,763.0 703.1,724.8 706.7,686.9 710.4,650.0 714.1,614.9 717.7,582.3 721.4,553.1 725.1,527.8 728.7,507.1 732.4,491.5 736.1,481.4 738.8,490.0 741.5,503.2 744.2,520.4 747.0,541.4 749.7,565.6 752.4,592.6 755.1,621.8 757.8,652.7 760.6,684.9 763.3,717.8 766.0,750.7 768.7,783.3 771.5,814.8 774.2,844.8 776.9,872.6 779.6,897.8 782.3,919.6 785.1,937.7 787.8,951.5 790.5,960.5 794.0,950.1 797.5,933.8 801.0,911.5 804.5,883.8 808.0,851.2 811.5,814.6 815.0,775.1 818.5,733.7 822.0,691.6 825.5,649.9 829.0,609.8 832.5,572.1 836.0,537.6 839.5,507.0 843.0,480.5 846.5,458.4 850.0,440.7 853.5,427.1 857.0,417.4 860.5,411.0 863.8,417.2 867.0,426.9 870.2,440.6 873.4,458.7 876.6,481.5 879.9,509.2 883.1,541.7 886.3,578.4 889.5,618.9 892.7,662.1 896.0,707.0 899.2,752.3 902.4,796.8 905.6,839.1 908.8,877.9 912.1,912.2 915.3,941.1 918.5,964.1 921.7,980.8 924.9,991.4 927.9,982.1 930.9,967.3 933.9,946.6 936.9,919.9 939.9,887.5 942.9,850.0 945.8,808.2 948.8,763.3 951.8,716.7 954.8,669.9 957.8,624.3 960.8,581.3 963.8,541.9 966.7,507.0 969.7,477.3 972.7,452.8 975.7,433.5 978.7,419.1 981.7,409.1 984.7,402.7 988.3,411.4 991.9,424.4 995.5,441.4 999.1,462.1 1002.8,486.2 1006.4,513.4 1010.0,543.5 1013.6,576.0 1017.2,610.6 1020.9,646.9 1024.5,684.5 1028.1,722.6 1031.7,760.8 1035.3,798.3 1038.9,834.2 1042.6,867.7 1046.2,897.5 1049.8,922.8 1053.4,942.3 1057.0,954.9 1059.6,948.6 1062.1,938.6 1064.6,924.3 1067.2,905.4 1069.7,881.9 1072.3,854.0 1074.8,822.5 1077.3,788.1 1079.9,751.8 1082.4,715.1 1085.0,678.9 1087.5,644.6 1090.0,613.2 1092.6,585.4 1095.1,561.7 1097.7,542.4 1100.2,527.4 1102.7,516.3 1105.3,508.7 1107.8,504.0 1111.7,514.1 1115.5,530.1 1119.4,551.4 1123.2,577.8 1127.1,608.5 1130.9,642.8 1134.8,679.9 1138.6,718.8 1142.5,758.6 1146.3,798.2 1150.2,836.9 1154.0,873.7 1157.9,907.9 1161.7,939.0 1165.6,966.5 1169.4,990.1 1173.3,1009.5 1177.1,1024.8 1181.0,1036.1 1184.8,1043.5 1187.8,1035.8 1190.7,1024.0 1193.7,1007.7 1196.6,986.7 1199.6,961.0 1202.6,930.9 1205.5,896.5 1208.5,858.6 1211.4,817.8 1214.4,775.1 1217.4,731.4 1220.3,687.9 1223.3,645.7 1226.2,605.9 1229.2,569.5 1232.1,537.4 1235.1,510.2 1238.1,488.6 1241.0,472.6 1244.0,462.5 1247.1,473.9 1250.2,491.7 1253.3,515.4 1256.5,544.4 1259.6,577.8 1262.7,614.9 1265.8,654.7 1268.9,696.3 1272.1,738.6 1275.2,780.8 1278.3,822.0 1281.4,861.4 1284.5,898.2 1287.7,931.9 1290.8,961.9 1293.9,988.0 1297.0,1009.7 1300.1,1027.1 1303.3,1040.0 1306.4,1048.5 1309.9,1042.0 1313.5,1032.3 1317.1,1018.9 1320.6,1001.6 1324.2,980.3 1327.8,954.9 1331.3,925.6 1334.9,892.6 1338.5,856.5 1342.1,817.8 1345.6,777.4 1349.2,736.2 1352.8,695.2 1356.3,655.5 1359.9,618.2 1363.5,584.5 1367.0,555.2 1370.6,531.4 1374.2,513.6 1377.7,502.3 1380.6,509.5 1383.4,520.3 1386.2,534.4 1389.0,551.7 1391.8,572.0 1394.7,595.1 1397.5,620.7 1400.3,648.7 1403.1,678.5 1405.9,709.9 1408.8,742.4 1411.6,775.4 1414.4,808.6 1417.2,841.0 1420.1,872.0 1422.9,900.8 1425.7,926.5 1428.5,948.1 1431.3,964.7 1434.2,975.4 1437.7,968.1 1441.3,956.4 1444.9,939.7 1448.4,917.8 1452.0,890.6 1455.6,858.4 1459.1,821.6 1462.7,781.4 1466.3,738.7 1469.8,695.0 1473.4,651.6 1477.0,609.9 1480.5,571.2 1484.1,536.3 1487.7,506.2 1491.2,481.1 1494.8,461.2 1498.4,446.3 1502.0,435.8 1505.5,429.3 1508.5,435.7 1511.5,445.7 1514.5,459.9 1517.5,478.8 1520.5,502.4 1523.4,530.9 1526.4,563.8 1529.4,600.6 1532.4,640.5 1535.4,682.5 1538.4,725.2 1541.4,767.6 1544.4,808.3 1547.3,846.0 1550.3,879.9 1553.3,909.1 1556.3,933.2 1559.3,951.9 1562.3,965.3 1565.3,973.8 1568.5,961.2 1571.7,941.6 1574.9,915.6 1578.1,884.4 1581.3,848.9 1584.5,810.3 1587.7,769.7 1590.9,728.1 1594.1,686.6 1597.3,646.0 1600.5,607.1 1603.7,570.6 1606.9,536.9 1610.1,506.6 1613.3,480.0 1616.5,457.1 1619.7,438.1 1622.9,423.1 1626.1,411.9 1629.3,404.3 1632.9,410.5 1636.5,419.9 1640.1,433.1 1643.7,450.6 1647.3,472.6 1650.9,499.2 1654.5,530.3 1658.1,565.6 1661.7,604.5 1665.3,646.2 1668.9,689.6 1672.5,733.8 1676.1,777.3 1679.7,818.9 1683.3,857.4 1686.9,891.7 1690.5,920.9 1694.1,944.2 1697.7,961.3 1701.3,972.1 1704.0,965.3 1706.7,954.2 1709.4,938.2 1712.1,916.8 1714.8,890.0 1717.5,858.0 1720.2,821.4 1722.9,781.2 1725.5,738.7 1728.2,695.4 1730.9,652.8 1733.6,612.3 1736.3,575.2 1739.0,542.5 1741.7,514.8 1744.4,492.3 1747.1,474.9 1749.7,462.2 1752.4,453.5 1755.1,448.2 1758.8,456.1 1762.5,468.2 1766.2,484.7 1769.9,505.6 1773.6,530.9 1777.3,560.3 1781.0,593.4 1784.7,629.6 1788.4,668.1 1792.1,708.3 1795.8,749.0 1799.5,789.4 1803.2,828.5 1806.9,865.3 1810.6,898.9 1814.3,928.7 1818.0,953.9 1821.7,974.1 1825.4,989.1 1829.1,998.7 1831.8,993.6 1834.4,986.0 1837.1,975.2 1839.8,960.9 1842.4,942.9 1845.1,920.9 1847.7,895.0 1850.4,865.4 1853.0,832.4 1855.7,796.7 1858.3,759.1 1861.0,720.4 1863.7,681.9 1866.3,644.5 1869.0,609.5 1871.6,577.9 1874.3,550.7 1876.9,528.7 1879.6,512.5 1882.2,502.3 1885.8,509.8 1889.4,521.7 1892.9,538.5 1896.5,560.4 1900.1,587.5 1903.7,619.3 1907.2,655.3 1910.8,694.6 1914.4,736.1 1917.9,778.6 1921.5,820.8 1925.1,861.3 1928.6,899.2 1932.2,933.3 1935.8,963.0 1939.3,987.8 1942.9,1007.7 1946.5,1022.8 1950.0,1033.4 1953.6,1040.2 1957.0,1036.4 1960.3,1030.2 1963.7,1020.9 1967.1,1007.9 1970.5,990.3 1973.8,967.9 1977.2,940.2 1980.6,907.5 1983.9,870.1 1987.3,828.7 1990.7,784.5 1994.0,738.9 1997.4,693.4 2000.8,649.7 2004.1,609.2 2007.5,573.4 2010.9,543.4 2014.2,519.7 2017.6,502.8 2021.0,492.3 2023.8,499.8 2026.5,511.6 2029.3,528.0 2032.1,549.2 2034.8,575.1 2037.6,605.3 2040.4,639.2 2043.2,676.0 2045.9,714.6 2048.7,753.8 2051.5,792.7 2054.2,830.0 2057.0,864.7 2059.8,896.1 2062.6,923.4 2065.3,946.4 2068.1,964.9 2070.9,979.0 2073.6,989.0 2076.4,995.4 2080.1,989.2 2083.7,979.6 2087.4,966.0 2091.0,948.0 2094.7,925.3 2098.3,897.9 2102.0,866.0 2105.6,830.2 2109.3,791.2 2112.9,749.9 2116.6,707.6 2120.2,665.4 2123.9,624.6 2127.5,586.5 2131.2,552.0 2134.8,522.0 2138.5,497.1 2142.1,477.7 2145.8,463.7 2149.4,454.8 2152.2,459.5 2154.9,467.2 2157.6,478.7 2160.4,494.8 2163.1,516.0 2165.9,542.5 2168.6,574.3 2171.3,610.6 2174.1,650.7 2176.8,693.2 2179.6,736.6 2182.3,779.3 2185.0,819.7 2187.8,856.5 2190.5,888.6 2193.2,915.3 2196.0,936.4 2198.7,952.1 2201.5,962.9 2204.2,969.5 2207.5,966.4 2210.8,957.4 2214.1,942.6 2217.4,922.4 2219.5,902.4" fill="none" stroke="#0000ff" stroke-width="12.6" stroke-linejoin="round" stroke-linecap="butt"/>
<rect x="2212.2" y="895.2" width="13.6" height="74.8" fill="#0000ff"/>
<g fill="none" stroke="#ee1111" stroke-width="3.5"><circle cx="226.5" cy="429.0" r="14.6"/><circle cx="239.8" cy="525.2" r="14.6"/><circle cx="249.1" cy="622.1" r="14.6"/><circle cx="254.1" cy="719.0" r="14.6"/><circle cx="263.1" cy="816.2" r="14.6"/><circle cx="272.0" cy="913.5" r="14.6"/><circle cx="293.6" cy="930.1" r="14.6"/><circle cx="302.2" cy="831.2" r="14.6"/><circle cx="306.9" cy="734.9" r="14.6"/><circle cx="315.5" cy="638.0" r="14.6"/><circle cx="322.8" cy="540.8" r="14.6"/><circle cx="341.0" cy="459.5" r="14.6"/><circle cx="359.3" cy="556.4" r="14.6"/><circle cx="372.6" cy="653.6" r="14.6"/><circle cx="381.9" cy="750.9" r="14.6"/><circle cx="390.8" cy="847.8" r="14.6"/><circle cx="400.8" cy="945.7" r="14.6"/><circle cx="427.3" cy="920.8" r="14.6"/><circle cx="434.6" cy="824.5" r="14.6"/><circle cx="442.9" cy="726.6" r="14.6"/><circle cx="448.2" cy="630.4" r="14.6"/><circle cx="455.5" cy="536.5" r="14.6"/><circle cx="478.7" cy="552.4" r="14.6"/><circle cx="488.0" cy="650.3" r="14.6"/><circle cx="496.3" cy="746.6" r="14.6"/><circle cx="505.3" cy="844.4" r="14.6"/><circle cx="515.3" cy="941.3" r="14.6"/><circle cx="528.5" cy="1038.6" r="14.6"/><circle cx="554.4" cy="987.1" r="14.6"/><circle cx="562.7" cy="900.9" r="14.6"/><circle cx="571.7" cy="812.9" r="14.6"/><circle cx="580.0" cy="715.7" r="14.6"/><circle cx="583.3" cy="618.8" r="14.6"/><circle cx="592.6" cy="521.9" r="14.6"/><circle cx="611.5" cy="521.9" r="14.6"/><circle cx="619.8" cy="618.8" r="14.6"/><circle cx="628.7" cy="711.7" r="14.6"/><circle cx="637.4" cy="807.9" r="14.6"/><circle cx="643.0" cy="904.8" r="14.6"/><circle cx="656.3" cy="1003.1" r="14.6"/><circle cx="677.9" cy="955.6" r="14.6"/><circle cx="691.1" cy="859.4" r="14.6"/><circle cx="698.8" cy="762.5" r="14.6"/><circle cx="707.7" cy="665.3" r="14.6"/><circle cx="720.6" cy="568.4" r="14.6"/><circle cx="737.2" cy="505.3" r="14.6"/><circle cx="752.4" cy="603.2" r="14.6"/><circle cx="760.7" cy="700.1" r="14.6"/><circle cx="770.4" cy="798.0" r="14.6"/><circle cx="779.0" cy="894.9" r="14.6"/><circle cx="797.9" cy="924.8" r="14.6"/><circle cx="809.5" cy="828.5" r="14.6"/><circle cx="818.8" cy="731.0" r="14.6"/><circle cx="826.8" cy="634.7" r="14.6"/><circle cx="835.4" cy="537.5" r="14.6"/><circle cx="848.3" cy="443.6" r="14.6"/><circle cx="875.9" cy="459.5" r="14.6"/><circle cx="884.2" cy="556.4" r="14.6"/><circle cx="898.1" cy="727.6" r="14.6"/><circle cx="906.7" cy="825.2" r="14.6"/><circle cx="911.4" cy="921.4" r="14.6"/><circle cx="930.0" cy="952.3" r="14.6"/><circle cx="942.2" cy="856.1" r="14.6"/><circle cx="950.5" cy="758.8" r="14.6"/><circle cx="954.9" cy="661.9" r="14.6"/><circle cx="963.8" cy="564.7" r="14.6"/><circle cx="967.1" cy="466.8" r="14.6"/><circle cx="994.7" cy="443.6" r="14.6"/><circle cx="1007.6" cy="537.5" r="14.6"/><circle cx="1016.9" cy="634.7" r="14.6"/><circle cx="1030.2" cy="731.0" r="14.6"/><circle cx="1039.1" cy="827.9" r="14.6"/><circle cx="1048.4" cy="925.1" r="14.6"/><circle cx="1070.7" cy="902.5" r="14.6"/><circle cx="1079.3" cy="805.3" r="14.6"/><circle cx="1083.3" cy="708.4" r="14.6"/><circle cx="1091.6" cy="611.5" r="14.6"/><circle cx="1104.9" cy="514.3" r="14.6"/><circle cx="1127.1" cy="568.4" r="14.6"/><circle cx="1136.4" cy="661.9" r="14.6"/><circle cx="1145.3" cy="758.8" r="14.6"/><circle cx="1154.6" cy="856.1" r="14.6"/><circle cx="1167.9" cy="952.3" r="14.6"/><circle cx="1190.5" cy="1030.9" r="14.6"/><circle cx="1202.7" cy="936.7" r="14.6"/><circle cx="1211.6" cy="840.5" r="14.6"/><circle cx="1215.9" cy="743.2" r="14.6"/><circle cx="1223.9" cy="645.3" r="14.6"/><circle cx="1232.2" cy="549.1" r="14.6"/><circle cx="1245.5" cy="490.0" r="14.6"/><circle cx="1259.1" cy="587.3" r="14.6"/><circle cx="1268.7" cy="681.2" r="14.6"/><circle cx="1273.7" cy="778.1" r="14.6"/><circle cx="1282.3" cy="875.3" r="14.6"/><circle cx="1291.3" cy="971.2" r="14.6"/><circle cx="1318.8" cy="1046.2" r="14.6"/><circle cx="1330.4" cy="949.0" r="14.6"/><circle cx="1339.4" cy="851.7" r="14.6"/><circle cx="1348.3" cy="754.9" r="14.6"/><circle cx="1356.6" cy="658.0" r="14.6"/><circle cx="1364.9" cy="564.0" r="14.6"/><circle cx="1386.5" cy="521.9" r="14.6"/><circle cx="1396.8" cy="618.8" r="14.6"/><circle cx="1405.7" cy="716.0" r="14.6"/><circle cx="1414.0" cy="809.6" r="14.6"/><circle cx="1423.3" cy="905.8" r="14.6"/><circle cx="1441.3" cy="953.3" r="14.6"/><circle cx="1454.5" cy="856.1" r="14.6"/><circle cx="1463.2" cy="758.8" r="14.6"/><circle cx="1471.1" cy="661.9" r="14.6"/><circle cx="1479.7" cy="564.7" r="14.6"/><circle cx="1492.7" cy="471.1" r="14.6"/><circle cx="1519.6" cy="494.4" r="14.6"/><circle cx="1529.2" cy="592.2" r="14.6"/><circle cx="1533.5" cy="688.5" r="14.6"/><circle cx="1542.5" cy="785.7" r="14.6"/><circle cx="1551.8" cy="902.5" r="14.6"/><circle cx="1569.0" cy="963.9" r="14.6"/><circle cx="1578.3" cy="867.7" r="14.6"/><circle cx="1594.9" cy="673.5" r="14.6"/><circle cx="1603.2" cy="576.3" r="14.6"/><circle cx="1611.5" cy="478.8" r="14.6"/><circle cx="1629.7" cy="381.5" r="14.6"/><circle cx="1665.2" cy="623.1" r="14.6"/><circle cx="1674.5" cy="719.3" r="14.6"/><circle cx="1679.5" cy="816.9" r="14.6"/><circle cx="1687.8" cy="913.5" r="14.6"/><circle cx="1711.7" cy="937.4" r="14.6"/><circle cx="1719.3" cy="840.5" r="14.6"/><circle cx="1723.9" cy="743.2" r="14.6"/><circle cx="1731.6" cy="645.3" r="14.6"/><circle cx="1739.9" cy="549.1" r="14.6"/><circle cx="1757.5" cy="463.8" r="14.6"/><circle cx="1775.4" cy="556.7" r="14.6"/><circle cx="1784.7" cy="642.0" r="14.6"/><circle cx="1793.0" cy="738.9" r="14.6"/><circle cx="1802.9" cy="836.2" r="14.6"/><circle cx="1838.8" cy="971.2" r="14.6"/><circle cx="1846.7" cy="875.0" r="14.6"/><circle cx="1855.3" cy="778.1" r="14.6"/><circle cx="1864.3" cy="681.2" r="14.6"/><circle cx="1868.3" cy="584.0" r="14.6"/><circle cx="1880.9" cy="491.0" r="14.6"/><circle cx="1899.8" cy="571.7" r="14.6"/><circle cx="1908.1" cy="669.2" r="14.6"/><circle cx="1917.4" cy="766.5" r="14.6"/><circle cx="1922.4" cy="863.4" r="14.6"/><circle cx="1931.3" cy="960.6" r="14.6"/><circle cx="1967.2" cy="1041.9" r="14.6"/><circle cx="1978.8" cy="945.7" r="14.6"/><circle cx="1988.1" cy="847.8" r="14.6"/><circle cx="1992.1" cy="750.9" r="14.6"/><circle cx="2001.0" cy="653.6" r="14.6"/><circle cx="2005.3" cy="556.7" r="14.6"/><circle cx="2031.9" cy="525.2" r="14.6"/><circle cx="2040.2" cy="622.8" r="14.6"/><circle cx="2045.2" cy="719.3" r="14.6"/><circle cx="2054.1" cy="816.9" r="14.6"/><circle cx="2063.4" cy="951.3" r="14.6"/><circle cx="2081.0" cy="1030.3" r="14.6"/><circle cx="2103.2" cy="886.6" r="14.6"/><circle cx="2111.5" cy="789.7" r="14.6"/><circle cx="2119.8" cy="692.5" r="14.6"/><circle cx="2128.1" cy="595.6" r="14.6"/><circle cx="2141.4" cy="498.3" r="14.6"/><circle cx="2159.6" cy="494.4" r="14.6"/><circle cx="2168.9" cy="591.6" r="14.6"/><circle cx="2177.9" cy="688.5" r="14.6"/><circle cx="2182.9" cy="785.7" r="14.6"/><circle cx="2187.9" cy="867.0" r="14.6"/><circle cx="2204.4" cy="973.2" r="14.6"/><circle cx="2216.7" cy="917.5" r="14.6"/><circle cx="279.2" cy="167" r="14.6"/></g>
<rect x="241.3" y="104.8" width="74.9" height="13.8" fill="#0000ff"/>
<g font-size="43.5" fill="#111" stroke="#111" stroke-width="0.5"><text x="321" y="125.8" textLength="283" lengthAdjust="spacingAndGlyphs">MFS (Present)</text>
<text x="321" y="181.7" textLength="521" lengthAdjust="spacingAndGlyphs">GFDM(Zhang et al., 2015)</text></g>
<g font-size="71">
<text transform="translate(216.9,1481.5) scale(1.04,1)" text-anchor="middle">0</text>
<text transform="translate(417.1,1481.5) scale(1.04,1)" text-anchor="middle">10</text>
<text transform="translate(617.4,1481.5) scale(1.04,1)" text-anchor="middle">20</text>
<text transform="translate(817.6,1481.5) scale(1.04,1)" text-anchor="middle">30</text>
<text transform="translate(1017.9,1481.5) scale(1.04,1)" text-anchor="middle">40</text>
<text transform="translate(1218.1,1481.5) scale(1.04,1)" text-anchor="middle">50</text>
<text transform="translate(1418.3,1481.5) scale(1.04,1)" text-anchor="middle">60</text>
<text transform="translate(1618.6,1481.5) scale(1.04,1)" text-anchor="middle">70</text>
<text transform="translate(1818.8,1481.5) scale(1.04,1)" text-anchor="middle">80</text>
<text transform="translate(2019.1,1481.5) scale(1.04,1)" text-anchor="middle">90</text>
<text transform="translate(2219.3,1481.5) scale(1.04,1)" text-anchor="middle">100</text>
<text transform="translate(196.5,84.8) scale(1.04,1)" text-anchor="end">2</text>
<text transform="translate(196.5,418.9) scale(1.04,1)" text-anchor="end">1</text>
<text transform="translate(196.5,753.0) scale(1.04,1)" text-anchor="end">0</text>
<text transform="translate(196.5,1087.1) scale(1.04,1)" text-anchor="end">1</text>
<text x="159" y="1098.8" font-size="82" text-anchor="end" font-weight="bold">−</text>
<text transform="translate(196.5,1421.2) scale(1.04,1)" text-anchor="end">2</text>
<text x="159" y="1432.9" font-size="82" text-anchor="end" font-weight="bold">−</text>
</g>
<text transform="translate(110.7,888) rotate(-90)" font-size="78"><tspan x="-2.2" font-size="90" font-style="italic">η</tspan><tspan x="42.9">(</tspan><tspan x="66.2">0</tspan><tspan x="107.9">,</tspan><tspan x="126.2" font-style="italic">h</tspan><tspan x="169.5">)</tspan><tspan x="193.9">·</tspan><tspan x="221.5" font-style="italic">a</tspan><tspan x="245" dy="-27" font-size="75" font-weight="bold">−</tspan><tspan x="287.2" dy="27" textLength="28" lengthAdjust="spacingAndGlyphs">1</tspan></text>
<g class="sans"><text x="1134.7" y="1573.5" font-size="85">t</text><text x="1160.4" y="1571.5" font-size="78">×</text><text x="1205.7" y="1573.5" font-size="78">ω</text></g>
<text x="1271" y="1612.5" font-size="61" textLength="25" lengthAdjust="spacingAndGlyphs">1</text>
</g>
<g class="capg"><text x="177" y="3445.5" font-size="86" class="cap">(</text><text x="203.5" y="3447.3" font-size="84" font-weight="bold" class="cap">c</text><text x="239.5" y="3445.5" font-size="86" class="cap">)</text><text x="285.8" y="3447.3" font-size="70" class="cap" textLength="336.8" lengthAdjust="spacingAndGlyphs">Calculation</text><text x="640.0" y="3447.3" font-size="70" class="cap" textLength="192.7" lengthAdjust="spacingAndGlyphs">results</text><text x="852.1" y="3447.3" font-size="70" class="cap" textLength="167.8" lengthAdjust="spacingAndGlyphs">under</text><text x="1046.0" y="3447.3" font-size="70" class="cap" textLength="88.9" lengthAdjust="spacingAndGlyphs">the</text><text x="1152.4" y="3447.3" font-size="70" class="cap" textLength="143.2" lengthAdjust="spacingAndGlyphs">third</text><text x="1314.4" y="3447.3" font-size="70" class="cap" textLength="520.6" lengthAdjust="spacingAndGlyphs">pseudo-boundary</text><text x="1859.1" y="3447.3" font-size="70" class="cap" textLength="280.0" lengthAdjust="spacingAndGlyphs">geometry</text></g>
</svg></body></html>
